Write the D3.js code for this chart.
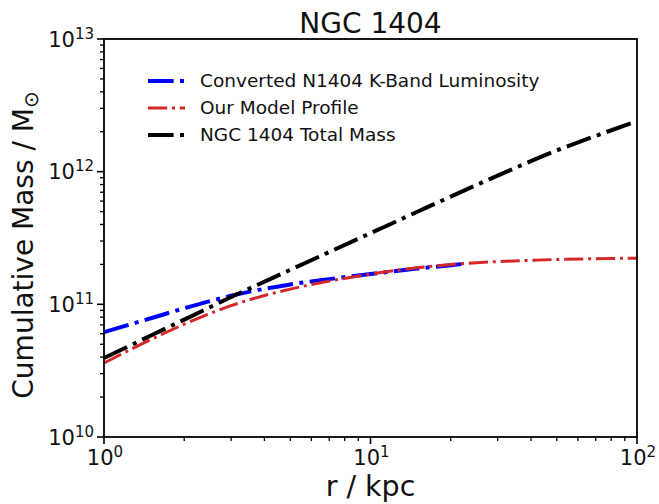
<!DOCTYPE html>
<meta charset="utf-8">
<style>

body {
  margin: 0;
  background: #fff;
}

text {
  font-family: "DejaVu Sans", sans-serif;
  fill: #111;
}

</style>
<body>
<script src="https://d3js.org/d3.v7.min.js"></script>
<script>

var w = 659,
    h = 504,
    margin = {top: 39, right: 22, bottom: 67, left: 104};

// radius in kpc
var radius = [1, 1.5, 2, 3, 5, 7, 10, 15, 20, 30, 50, 70, 100];
var radiusLum = [1, 1.5, 2, 3, 5, 7, 10, 15, 20, 23];

// cumulative mass in solar masses
var lumMass   = [6.18e10, 7.85e10, 9.33e10, 1.161e11, 1.413e11, 1.549e11, 1.69e11, 1.86e11, 1.97e11, 2.03e11];
var modelMass = [3.61e10, 5.43e10, 7.08e10, 9.77e10, 1.303e11, 1.496e11, 1.69e11, 1.884e11, 1.995e11, 2.099e11, 2.178e11, 2.208e11, 2.228e11];
var totalMass = [3.94e10, 5.82e10, 7.67e10, 1.135e11, 1.82e11, 2.48e11, 3.44e11, 4.99e11, 6.49e11, 9.33e11, 1.445e12, 1.86e12, 2.4e12];

var seriesNames = ["Converted N1404 K-Band Luminosity", "Our Model Profile", "NGC 1404 Total Mass"];
var xTickExp = [0, 1, 2];
var yTickExp = [10, 11, 12, 13];

var series = [
  {name: seriesNames[0], r: radiusLum, m: lumMass, color: "#0000ff", lw: 4},
  {name: seriesNames[1], r: radius, m: modelMass, color: "#d62728", lw: 3},
  {name: seriesNames[2], r: radius, m: totalMass, color: "#000000", lw: 4}
];

function dashes(lw) {
  return [6.4, 1.6, 1, 1.6].map(function(d) { return d * lw; }).join(",");
}

var x = d3.scaleLog().domain([1, 100]).range([margin.left, w - margin.right]);
var y = d3.scaleLog().domain([1e10, 1e13]).range([h - margin.bottom, margin.top]);

var svg = d3.select("body").append("svg")
    .attr("width", w)
    .attr("height", h);

// curves
var line = d3.line()
    .x(function(d) { return x(d[0]); })
    .y(function(d) { return y(d[1]); })
    .curve(d3.curveMonotoneX);

svg.selectAll("path.series")
    .data(series)
  .enter().append("path")
    .attr("class", "series")
    .attr("d", function(s) { return line(s.r.map(function(r, i) { return [r, s.m[i]]; })); })
    .attr("fill", "none")
    .attr("stroke", function(s) { return s.color; })
    .attr("stroke-width", function(s) { return s.lw; })
    .attr("stroke-dasharray", function(s) { return dashes(s.lw); });

// minor + major ticks
var xMinor = [], yMinor = [];
for (var e = 0; e < 2; e++) for (var k = 2; k < 10; k++) xMinor.push(k * Math.pow(10, e));
for (var e2 = 10; e2 < 13; e2++) for (var k2 = 2; k2 < 10; k2++) yMinor.push(k2 * Math.pow(10, e2));

var x0 = margin.left, y0 = h - margin.bottom;

svg.selectAll("line.xminor")
    .data(xMinor)
  .enter().append("line")
    .attr("x1", x).attr("x2", x)
    .attr("y1", y0).attr("y2", y0 + 4)
    .attr("stroke", "#000").attr("stroke-width", 1.3);

svg.selectAll("line.xmajor")
    .data(xTickExp)
  .enter().append("line")
    .attr("x1", function(d) { return x(Math.pow(10, d)); })
    .attr("x2", function(d) { return x(Math.pow(10, d)); })
    .attr("y1", y0).attr("y2", y0 + 7)
    .attr("stroke", "#000").attr("stroke-width", 1.6);

svg.selectAll("line.yminor")
    .data(yMinor)
  .enter().append("line")
    .attr("y1", y).attr("y2", y)
    .attr("x1", x0).attr("x2", x0 - 4)
    .attr("stroke", "#000").attr("stroke-width", 1.3);

svg.selectAll("line.ymajor")
    .data(yTickExp)
  .enter().append("line")
    .attr("y1", function(d) { return y(Math.pow(10, d)); })
    .attr("y2", function(d) { return y(Math.pow(10, d)); })
    .attr("x1", x0).attr("x2", x0 - 7)
    .attr("stroke", "#000").attr("stroke-width", 1.6);

// frame
svg.append("rect")
    .attr("x", margin.left)
    .attr("y", margin.top)
    .attr("width", w - margin.right - margin.left)
    .attr("height", h - margin.bottom - margin.top)
    .attr("fill", "none")
    .attr("stroke", "#000")
    .attr("stroke-width", 1.8);

// tick labels
function powLabel(sel, exp) {
  sel.append("tspan").text("10");
  sel.append("tspan").attr("dy", -8).attr("font-size", 15).text(exp);
}

svg.selectAll("text.xlab")
    .data(xTickExp)
  .enter().append("text")
    .attr("x", function(d) { return x(Math.pow(10, d)) + 1; })
    .attr("y", y0 + 28)
    .attr("text-anchor", "middle")
    .attr("font-size", 21)
    .each(function(d) { powLabel(d3.select(this), d); });

svg.selectAll("text.ylab")
    .data(yTickExp)
  .enter().append("text")
    .attr("x", x0 - 10)
    .attr("y", function(d) { return y(Math.pow(10, d)) + 7.5; })
    .attr("text-anchor", "end")
    .attr("font-size", 21)
    .each(function(d) { powLabel(d3.select(this), d); });

// title and axis labels
svg.append("text")
    .attr("x", (margin.left + w - margin.right) / 2)
    .attr("y", 33)
    .attr("text-anchor", "middle")
    .attr("font-size", 28)
    .text("NGC 1404");

svg.append("text")
    .attr("x", (margin.left + w - margin.right) / 2)
    .attr("y", 496)
    .attr("text-anchor", "middle")
    .attr("font-size", 28.5)
    .text("r / kpc");

var ylab = svg.append("text")
    .attr("transform", "translate(33,245) rotate(-90)")
    .attr("text-anchor", "middle")
    .attr("font-size", 28);
ylab.append("tspan").text("Cumulative Mass / M");
ylab.append("tspan").attr("dy", 5).attr("font-size", 20).text("\u2299");

// legend
var legend = svg.selectAll("g.legend")
    .data(series)
  .enter().append("g")
    .attr("transform", function(d, i) { return "translate(148," + (81 + i * 27) + ")"; });

legend.append("line")
    .attr("x1", 0).attr("x2", 37)
    .attr("stroke", function(d) { return d.color; })
    .attr("stroke-width", function(d) { return d.lw; })
    .attr("stroke-dasharray", function(d) { return dashes(d.lw); });

legend.append("text")
    .attr("x", 52)
    .attr("dy", "0.35em")
    .attr("font-size", 18.5)
    .text(function(d) { return d.name; });

</script>
